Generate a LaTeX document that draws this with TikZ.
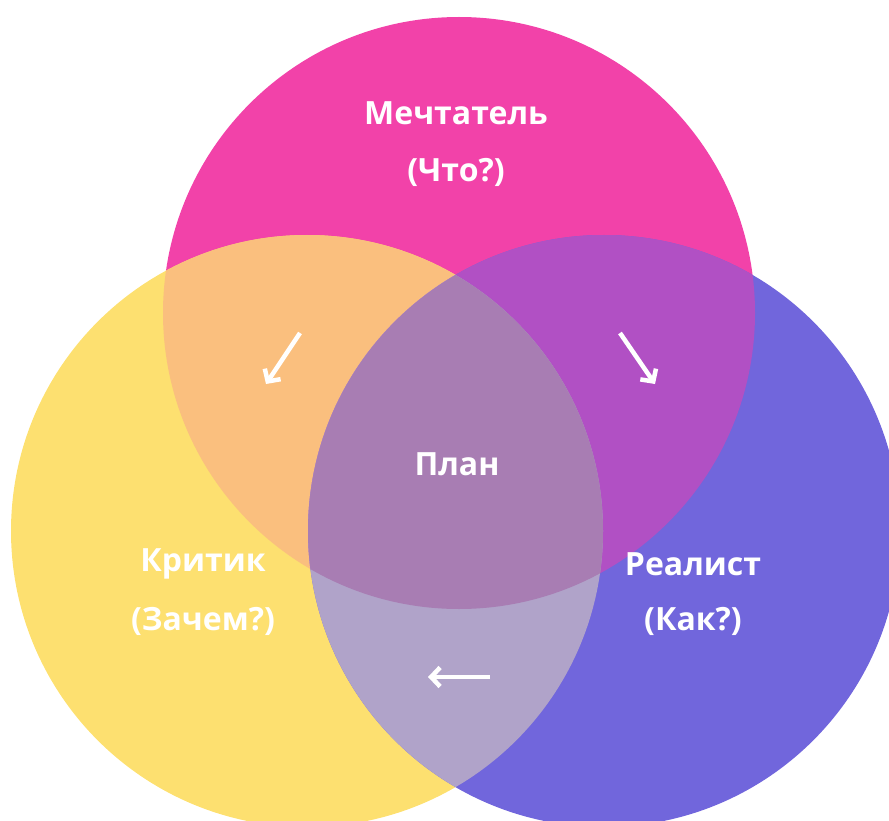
\documentclass[tikz,border=0pt]{standalone}
\usepackage{fontspec}
\setmainfont{Open Sans}
\usetikzlibrary{arrows.meta}
\definecolor{cpink}{HTML}{F242A9}
\definecolor{cyel}{HTML}{FDE070}
\definecolor{cpur}{HTML}{7166DC}
\definecolor{cpy}{HTML}{FABF7E}
\definecolor{cpp}{HTML}{B150C4}
\definecolor{cyp}{HTML}{B0A3C9}
\definecolor{call}{HTML}{A87DB3}
\begin{document}
\begin{tikzpicture}[x=1pt,y=-1pt,
  lbl/.style={text=white,font=\bfseries\fontsize{32}{38}\selectfont,align=center,inner sep=0pt},
  arr/.style={draw=white,line width=4.5pt,-{Straight Barb[length=9pt,width=19pt,line width=4.5pt]}}]
\useasboundingbox (0,0) rectangle (889,821);
\clip (0,0) rectangle (889,821);
\def\R{296}
\coordinate (P) at (459,313);
\coordinate (Y) at (307,531);
\coordinate (U) at (604,531);
\fill[cpink] (P) circle (\R);
\fill[cyel] (Y) circle (\R);
\fill[cpur] (U) circle (\R);
\begin{scope}\clip (P) circle (\R); \fill[cpy] (Y) circle (\R);\end{scope}
\begin{scope}\clip (P) circle (\R); \fill[cpp] (U) circle (\R);\end{scope}
\begin{scope}\clip (Y) circle (\R); \fill[cyp] (U) circle (\R);\end{scope}
\begin{scope}\clip (P) circle (\R); \clip (Y) circle (\R); \fill[call] (U) circle (\R);\end{scope}
\node[lbl] (dream) at (456,113) {Мечтатель};
\node[lbl] (dreamq) at (456,172) {(Что?)};
\node[lbl] (plan) at (457,464) {План};
\node[lbl] (crit) at (203,564) {Критик};
\node[lbl] (critq) at (203,621) {(Зачем?)};
\node[lbl] (real) at (693,564) {Реалист};
\node[lbl] (realq) at (693,621) {(Как?)};
\coordinate (a1s) at (300,333); \coordinate (a1e) at (266,384);
\coordinate (a2s) at (620,333); \coordinate (a2e) at (655,384);
\coordinate (a3s) at (490,677); \coordinate (a3e) at (428,677);
\draw[arr] (a1s) -- (a1e);
\draw[arr] (a2s) -- (a2e);
\draw[arr] (a3s) -- (a3e);
\end{tikzpicture}
\end{document}
